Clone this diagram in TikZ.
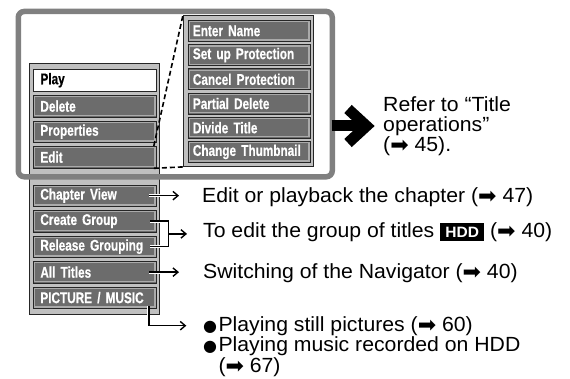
\documentclass[tikz,border=0pt]{standalone}
\usepackage{fontspec}
\setmainfont{Liberation Sans}[FakeStretch=1.035]
\newfontfamily\btnfont{Liberation Sans}[FakeStretch=0.76, FakeBold=0.5]
\newfontfamily\symfont{DejaVu Sans}
\usetikzlibrary{arrows.meta,calc}
\definecolor{framegray}{RGB}{128,128,128}
\definecolor{panelgray}{RGB}{192,192,192}
\definecolor{btngray}{RGB}{108,108,108}
\definecolor{rimgray}{RGB}{170,170,170}
\newcommand\parr{\raisebox{-1pt}{\symfont\fontsize{22}{22}\selectfont ➡}}
\newcommand\bul{\llap{{\symfont\fontsize{16}{16}\selectfont ●}\hspace{1.5pt}}}
\newcommand\hdd{{\setlength\fboxsep{0pt}\colorbox{black}{\makebox[44pt]{\rule[-3pt]{0pt}{18pt}\textcolor{white}{\bfseries\fontsize{15}{15}\selectfont HDD}}}}}
\begin{document}
\begin{tikzpicture}[x=1pt,y=-1pt,
  every node/.style={inner sep=0pt},
  panel/.style={draw=black!85, line width=0.9pt, fill=panelgray, anchor=north west, minimum width=130pt},
  btnbase/.style={draw=black!85, line width=0.8pt, anchor=north west, align=left,
     font=\btnfont\bfseries\fontsize{15.5}{15.5}\selectfont, inner ysep=0pt, minimum height=21.5pt},
  rim/.style={path picture={\draw[rimgray, line width=1.2pt]
     ([xshift=1.4pt,yshift=-1.4pt]path picture bounding box.north west) rectangle
     ([xshift=-1.4pt,yshift=1.4pt]path picture bounding box.south east);}},
  btn/.style={btnbase, rim, fill=btngray, text=white},
  lbtn/.style={btn, text width=109pt, inner xsep=7pt},
  sbtn/.style={btn, text width=113pt, minimum height=21pt, inner xsep=4.5pt},
  playbtn/.style={btnbase, fill=white, text=black, text width=109pt, inner xsep=7pt, line width=1pt},
  txt/.style={anchor=base west, font=\fontsize{20.5}{20.5}\selectfont},
  conn/.style={line width=1.4pt, -{Straight Barb[length=5pt,width=8.5pt]},
     preaction={draw=white, line width=2.8pt}},
  bracket/.style={line width=1.4pt, preaction={draw=white, line width=2.8pt}},
  dashline/.style={line width=1.6pt, dash pattern=on 5pt off 3pt},
  bigarrow/.style={line width=11pt, line join=miter}
]
\useasboundingbox (0,0) rectangle (570,378);

% panels
\node[panel, minimum height=251pt] (lp) at (29,63) {};
\node[panel, minimum height=151pt] (sp) at (183,15) {};

% left menu
\node[playbtn] (play) at (33,69) {Play};
\node[lbtn] (del) at (33,95) {Delete};
\node[lbtn] (prop) at (33,120.5) {Properties};
\node[lbtn] (edit) at (33,146) {Edit};
\node[lbtn] (cv) at (33,184.5) {Chapter View};
\node[lbtn] (cg) at (33,210) {Create Group};
\node[lbtn] (rg) at (33,235.5) {Release Grouping};
\node[lbtn] (at) at (33,261) {All Titles};
\node[lbtn] (pm) at (33,286.5) {PICTURE / MUSIC};

% sub menu
\node[sbtn] (s1) at (188,20) {Enter Name};
\node[sbtn] (s2) at (188,44.2) {Set up Protection};
\node[sbtn] (s3) at (188,68.4) {Cancel Protection};
\node[sbtn] (s4) at (188,92.6) {Partial Delete};
\node[sbtn] (s5) at (188,116.8) {Divide Title};
\node[sbtn] (s6) at (188,141) {Change Thumbnail};

% frame
\node[draw=framegray, line width=5.5pt, rounded corners=6pt, anchor=north west,
      minimum width=314pt, minimum height=165.3pt] (frame) at (15.5,8.7) {};

% dashed zoom lines
\draw[dashline] ([xshift=-3pt]edit.north east) -- (sp.north west);
\draw[dashline] ([xshift=-3pt]edit.south east) -- (sp.south west);

% texts
\node[txt] (r1) at (383,111) {Refer to “Title};
\node[txt] (r2) at (383,131.3) {operations”};
\node[txt] (r3) at (383,151.6) {(\parr\ 45).};
\node[txt] (t1) at (202,202.7) {Edit or playback the chapter (\parr\ 47)};
\node[txt] (t2) at (203,237.7) {To edit the group of titles \hdd\ (\parr\ 40)};
\node[txt] (t3) at (203,278) {Switching of the Navigator (\parr\ 40)};
\node[txt] (b1) at (218.3,331) {\bul Playing still pictures (\parr\ 60)};
\node[txt] (b2) at (218.3,351.5) {\bul Playing music recorded on HDD};
\node[txt] (b3) at (218.3,372) {(\parr\ 67)};

% connectors
\draw[conn, shorten >=15pt] ([xshift=-8pt]cv.east) -- ([xshift=-8pt]cv.east -| t1.west);
\draw[bracket] ([xshift=-7pt]cg.east) -- ++(18.5,0) |- ([xshift=-7pt]rg.east);
\coordinate (bm) at ($([xshift=11.5pt]cg.east)!0.5!([xshift=11.5pt]rg.east)$);
\draw[conn, shorten >=16pt] (bm) -- (bm -| t2.west);
\draw[conn, shorten >=16pt] ([xshift=-8pt]at.east) -- ([xshift=-8pt]at.east -| t3.west);
\draw[conn, shorten >=16pt] ([xshift=-8pt,yshift=3pt]pm.south east) |- ([xshift=-16pt]b1.west);

% big arrow
\draw[bigarrow] (331.5,125.5) -- (362,125.5);
\draw[bigarrow] (348,109) -- (366.5,126) -- (348,143);
\end{tikzpicture}
\end{document}
